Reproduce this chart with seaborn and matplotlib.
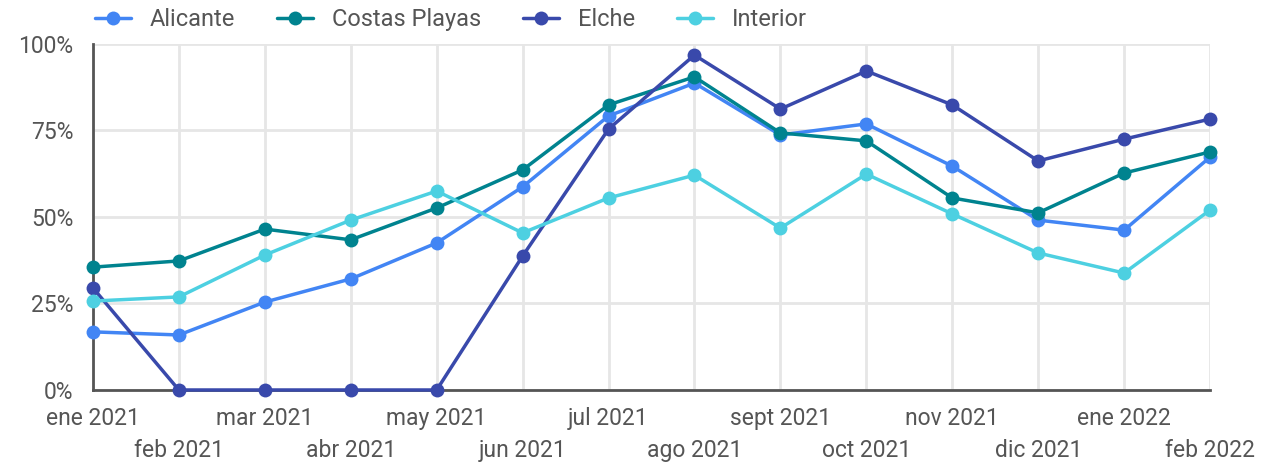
import pandas as pd
import matplotlib.pyplot as plt
import seaborn as sns

# data (percent)
meses = ["ene 2021", "feb 2021", "mar 2021", "abr 2021", "may 2021", "jun 2021", "jul 2021",
         "ago 2021", "sept 2021", "oct 2021", "nov 2021", "dic 2021", "ene 2022", "feb 2022"]
alicante = [16.8, 15.9, 25.4, 32.1, 42.5, 58.7, 79.2, 88.7, 73.7, 76.9, 64.7, 49.1, 46.2, 67.3]
costas_playas = [35.5, 37.3, 46.5, 43.4, 52.6, 63.6, 82.4, 90.5, 74.3, 72.0, 55.5, 51.2, 62.7, 68.8]
elche = [29.5, 0, 0, 0, 0, 38.7, 75.4, 96.8, 81.2, 92.2, 82.4, 66.2, 72.5, 78.3]
interior = [25.7, 26.9, 39.0, 49.1, 57.5, 45.4, 55.5, 62.1, 46.8, 62.4, 50.9, 39.6, 33.8, 52.0]

series = {"Alicante": alicante, "Costas Playas": costas_playas, "Elche": elche, "Interior": interior}
colores = {"Alicante": "#4285F4", "Costas Playas": "#00838F", "Elche": "#3949AB", "Interior": "#4DD0E1"}

rows = []
for nombre, vals in series.items():
    for i, v in enumerate(vals):
        rows.append({"mes": i, "valor": v, "serie": nombre})
df = pd.DataFrame(rows)

sns.set_style("white")
plt.rcParams["font.family"] = ["Roboto", "DejaVu Sans"]
gris = "#555555"
fs = 16.5

fig = plt.figure(figsize=(12.61, 4.68), dpi=100)
ax = fig.add_axes([0.0737, 0.1667, 0.8859, 0.7393])

sns.lineplot(data=df, x="mes", y="valor", hue="serie", palette=colores, marker="o",
             linewidth=2.5, markersize=10, markeredgewidth=0, ax=ax, clip_on=False, zorder=3)

ax.set_xlim(0, len(meses) - 1)
ax.set_ylim(0, 100)
ax.set_yticks([0, 25, 50, 75, 100])
ax.set_yticklabels([f"{t}%" for t in [0, 25, 50, 75, 100]])

# alternate x labels on two rows
ax.set_xticks(range(0, len(meses), 2))
ax.set_xticklabels(meses[0::2])
ax.set_xticks(range(1, len(meses), 2), minor=True)
ax.set_xticklabels(meses[1::2], minor=True)
ax.tick_params(axis="x", which="major", length=0, pad=12, labelsize=fs, labelcolor=gris)
ax.tick_params(axis="x", which="minor", length=0, pad=35, labelsize=fs, labelcolor=gris)
ax.tick_params(axis="y", length=0, pad=14, labelsize=fs, labelcolor=gris)

ax.grid(True, which="both", color="#e6e6e6", linewidth=2)
ax.set_axisbelow(True)
ax.set_xlabel("")
ax.set_ylabel("")

for s in ["top", "right"]:
    ax.spines[s].set_visible(False)
for s in ["left", "bottom"]:
    ax.spines[s].set_color(gris)
    ax.spines[s].set_linewidth(2)
    ax.spines[s].set_zorder(2.5)

sns.move_legend(ax, "center left", bbox_to_anchor=(0.068, 0.958), bbox_transform=fig.transFigure,
                ncol=4, frameon=False, title=None, fontsize=17, handlelength=1.5,
                handletextpad=0.8, columnspacing=1.8, borderaxespad=0)
for t in ax.get_legend().get_texts():
    t.set_color(gris)

fig.savefig("out.png", dpi=100)
